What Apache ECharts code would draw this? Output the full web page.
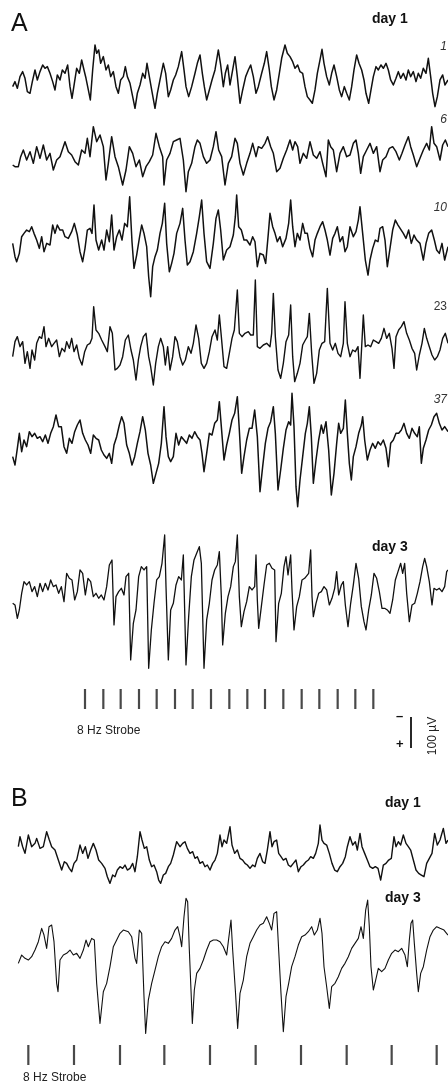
<!DOCTYPE html>
<html>
<head>
<meta charset="UTF-8">
<title>EEG 8 Hz strobe</title>
<script type="text/javascript" src="https://cdn.jsdelivr.net/npm/echarts@6/dist/echarts.min.js"></script>
<style>
html, body { margin: 0; padding: 0; background: #fff; }
</style>
</head>
<body>
<div id="main" style="width:448px; height:1084px"></div>
<script type="text/javascript">
// time in samples (same scale for every trace of a panel), amplitude in display units, negative up
var trace1 = [[38,10],[45,-5],[52,15],[60,-20],[68,-35],[75,-15],[82,25],[90,30],[97,-5],[105,-40],[112,-10],[120,-35],[128,-55],[135,-45],[142,-50],[150,-30],[158,-5],[165,20],[172,-25],[180,-10],[187,-40],[195,-30],[203,-55],[210,10],[216,45],[223,0],[230,-45],[238,-30],[245,-70],[252,-40],[258,-15],[265,20],[271,50],[278,-40],[285,-115],[290,-90],[296,-100],[302,-60],[310,-80],[318,-40],[325,-55],[332,-20],[340,-35],[348,10],[355,30],[362,-10],[370,-20],[376,-50],[382,-20],[390,0],[398,40],[405,75],[412,30],[420,5],[428,-30],[435,-15],[441,-60],[448,-20],[455,20],[465,75],[472,30],[480,-10],[490,-60],[497,-30],[505,40],[512,20],[520,-10],[527,-25],[535,-50],[545,-95],[552,-40],[558,10],[566,40],[575,10],[585,-30],[592,-60],[600,-85],[607,-30],[613,10],[620,50],[628,20],[636,-10],[645,-40],[655,-100],[662,-55],[670,10],[676,-30],[683,-55],[690,5],[698,-40],[705,-80],[712,-20],[720,60],[728,20],[737,-20],[745,-40],[752,-55],[760,-20],[768,30],[775,10],[785,-30],[793,-60],[800,-95],[808,-40],[814,10],[822,50],[830,20],[838,-30],[845,-75],[855,-115],[862,-90],[870,-80],[878,-65],[885,-45],[893,-55],[900,-35],[908,-30],[915,10],[922,40],[930,50],[937,60],[945,20],[952,-30],[960,-70],[966,-102],[972,-60],[980,-20],[988,5],[995,-30],[1002,-55],[1010,-20],[1018,20],[1025,40],[1033,10],[1040,30],[1048,50],[1055,10],[1062,-40],[1070,-85],[1077,-60],[1085,-40],[1092,-10],[1098,30],[1106,60],[1113,20],[1120,-20],[1128,-50],[1135,-40],[1143,-55],[1150,-45],[1158,-60],[1165,-40],[1172,-10],[1180,5],[1188,-15],[1195,-35],[1202,-15],[1210,-30],[1218,-10],[1225,-40],[1232,-20],[1240,-35],[1248,-5],[1255,-30],[1262,-15],[1270,-45],[1278,-30],[1285,-75],[1292,-20],[1298,30],[1305,70],[1312,40],[1320,-10],[1328,-25],[1335,5],[1344,-10]];

var trace6 = [[38,15],[45,20],[55,20],[62,-10],[70,-30],[80,0],[90,-25],[100,10],[110,-40],[120,-5],[130,-45],[140,0],[150,-20],[160,30],[170,0],[180,-10],[195,-55],[205,-25],[215,-15],[225,5],[235,15],[245,-30],[255,-20],[262,-65],[270,-10],[280,-100],[290,-55],[300,-75],[310,-40],[318,60],[325,10],[335,-70],[345,-10],[355,20],[368,75],[378,30],[388,-40],[398,-20],[408,20],[418,0],[428,50],[438,20],[448,5],[458,-15],[468,-80],[478,-40],[488,-10],[492,75],[500,0],[510,-20],[520,-55],[530,-60],[540,-65],[550,0],[558,95],[565,35],[575,10],[585,-40],[592,-60],[600,-50],[610,-10],[620,10],[630,0],[640,-40],[648,-85],[656,-30],[665,-10],[675,75],[685,10],[695,-10],[705,-65],[712,-50],[720,10],[730,45],[740,10],[750,-20],[758,-50],[768,-10],[775,-40],[785,-35],[795,-50],[803,-70],[812,-40],[820,-20],[830,35],[840,25],[850,-5],[860,-30],[870,-60],[878,-30],[885,-55],[893,-40],[900,10],[910,-20],[920,-5],[930,-55],[940,-15],[950,-5],[960,-25],[968,10],[978,50],[985,-60],[992,-40],[1000,-30],[1010,35],[1020,-20],[1030,-40],[1040,-10],[1050,-15],[1060,-50],[1068,-60],[1075,-20],[1082,40],[1090,-10],[1100,-30],[1110,-50],[1120,-20],[1130,-40],[1140,35],[1148,0],[1158,-10],[1168,-35],[1178,-40],[1188,-25],[1198,0],[1206,-20],[1215,-45],[1225,-70],[1232,-40],[1240,-15],[1250,20],[1260,-5],[1270,-30],[1280,-50],[1288,-30],[1295,-100],[1302,-50],[1310,-40],[1320,0],[1328,-45],[1336,-60],[1344,-40]];

var trace10 = [[38,-10],[45,30],[50,45],[58,20],[65,-30],[72,-40],[80,-50],[88,-45],[95,-60],[102,-40],[110,-20],[118,5],[125,-30],[132,15],[140,-10],[150,-5],[158,-65],[165,-40],[172,-65],[180,-50],[188,-50],[195,-30],[205,-25],[215,-45],[223,-70],[232,-35],[240,15],[248,45],[255,5],[262,-50],[270,-55],[276,-40],[282,-125],[288,-20],[296,10],[305,-20],[312,10],[320,-50],[328,-15],[335,-95],[342,10],[350,-30],[358,-50],[366,-20],[374,-70],[382,-60],[389,-150],[396,-15],[402,65],[410,25],[418,-25],[425,-65],[432,-40],[440,0],[446,90],[452,150],[458,60],[465,30],[472,10],[480,-40],[487,-70],[494,-130],[500,-10],[508,75],[515,50],[522,20],[530,-40],[540,-70],[548,-115],[555,-20],[562,55],[570,45],[580,15],[590,-40],[598,-90],[605,-140],[612,-40],[620,45],[630,65],[640,-10],[648,-85],[655,-110],[662,-50],[670,40],[680,10],[690,0],[700,-35],[706,-90],[710,-155],[716,-60],[724,-50],[732,-20],[740,-20],[750,-5],[758,-30],[765,-15],[772,60],[780,20],[790,25],[797,50],[805,-40],[810,-100],[818,-60],[825,-40],[832,-15],[840,-30],[848,0],[858,-25],[866,-70],[872,-140],[878,-60],[885,0],[892,-40],[900,-20],[908,-70],[915,-40],[922,-40],[930,5],[938,30],[945,-20],[952,-40],[960,-60],[968,-75],[975,-50],[982,-20],[990,25],[998,-25],[1005,-40],[1012,-60],[1020,-15],[1028,-30],[1035,15],[1042,0],[1050,-60],[1060,-30],[1068,-45],[1075,-80],[1080,-120],[1088,-40],[1096,40],[1104,85],[1110,40],[1118,5],[1126,-20],[1134,-15],[1140,-55],[1148,-60],[1155,-20],[1162,60],[1170,5],[1178,-50],[1186,-80],[1194,-65],[1200,-70],[1210,-40],[1218,-25],[1226,-50],[1234,-10],[1242,-35],[1250,-20],[1260,-10],[1270,40],[1278,-10],[1286,-40],[1295,-50],[1303,-20],[1310,10],[1318,20],[1326,-10],[1334,40],[1344,0]];

var trace23 = [[38,20],[45,-25],[52,-40],[60,-10],[68,-25],[75,40],[82,5],[90,55],[96,0],[104,30],[110,-20],[118,-40],[125,-35],[132,-70],[138,-10],[146,-35],[155,-10],[162,-20],[170,-30],[178,20],[186,-5],[194,5],[200,-25],[208,-5],[215,-35],[222,5],[230,-15],[238,25],[246,45],[254,5],[262,-15],[270,-20],[276,-35],[281,-130],[288,-60],[296,-50],[305,-30],[315,-10],[322,5],[330,-70],[337,-50],[345,60],[352,55],[360,45],[368,20],[376,-30],[385,-45],[393,0],[400,30],[408,90],[415,30],[422,-10],[430,-40],[438,-50],[446,20],[452,50],[460,105],[467,40],[475,-10],[482,-35],[490,-10],[496,45],[503,-10],[510,60],[518,20],[525,-40],[532,-25],[540,20],[548,45],[556,30],[565,-10],[573,10],[580,-20],[588,-75],[596,-35],[604,40],[612,55],[620,40],[628,5],[636,-40],[645,-60],[652,-30],[658,-105],[664,-40],[672,50],[680,55],[688,10],[696,-35],[703,-60],[708,-65],[712,-180],[718,-50],[726,-40],[735,-50],[745,-55],[752,-45],[760,-45],[766,-210],[772,-10],[780,-5],[790,-15],[800,-20],[810,-10],[815,-50],[820,-170],[826,-40],[834,60],[842,85],[850,40],[858,-25],[866,-45],[872,-135],[878,20],[884,95],[892,70],[900,40],[908,-15],[916,-30],[922,-40],[928,-110],[935,10],[942,100],[950,70],[958,0],[966,-20],[974,-25],[982,-185],[990,-20],[998,0],[1006,-20],[1014,10],[1022,20],[1030,-20],[1035,-145],[1042,-20],[1050,20],[1058,0],[1066,5],[1074,-10],[1080,85],[1085,-10],[1090,-105],[1096,-10],[1104,-15],[1112,-10],[1120,-30],[1128,-25],[1136,-20],[1144,-35],[1152,-65],[1160,-35],[1168,-50],[1176,-5],[1182,55],[1188,-40],[1196,-60],[1204,-70],[1212,-85],[1220,-50],[1228,-30],[1236,-5],[1244,10],[1250,60],[1258,15],[1266,-20],[1273,-65],[1280,-35],[1288,-10],[1296,15],[1304,30],[1312,20],[1320,0],[1328,-35],[1336,-50],[1344,-20]];

var trace37 = [[38,50],[45,75],[52,25],[58,-20],[65,35],[72,0],[80,20],[88,-25],[96,-10],[104,-20],[112,-5],[120,-10],[128,5],[136,-15],[144,10],[152,-20],[160,-40],[168,-75],[176,-40],[184,-40],[192,20],[200,40],[208,-5],[216,10],[224,-25],[232,-45],[240,-60],[248,-20],[256,0],[264,15],[272,40],[280,-15],[288,-5],[296,0],[304,30],[312,45],[320,55],[328,40],[335,70],[342,15],[350,-10],[358,-45],[365,-70],[372,-50],[380,15],[388,40],[396,75],[404,50],[412,10],[420,-25],[428,-70],[436,-30],[444,40],[452,75],[460,130],[468,100],[476,70],[484,10],[492,-100],[498,-10],[505,50],[512,65],[520,50],[528,-20],[536,15],[544,-10],[552,0],[560,10],[568,-15],[576,-5],[584,-25],[592,-10],[600,0],[606,40],[612,95],[620,40],[628,-20],[636,-15],[644,-50],[652,-60],[658,-115],[664,-40],[672,60],[680,15],[688,-20],[696,-60],[704,-80],[712,-130],[718,-30],[725,100],[732,50],[740,0],[748,-35],[756,-35],[764,-90],[772,-10],[780,155],[788,80],[796,10],[804,-35],[812,-55],[820,-100],[826,-20],[834,150],[842,90],[850,25],[858,-30],[866,-55],[872,-45],[876,-140],[882,-40],[888,140],[893,200],[900,120],[908,50],[916,-20],[922,-50],[928,-100],[934,-10],[940,130],[948,60],[956,0],[964,-45],[970,-20],[978,-55],[986,30],[994,165],[1002,100],[1010,10],[1016,-50],[1022,-20],[1030,-35],[1036,-120],[1042,-20],[1048,70],[1054,120],[1060,50],[1068,20],[1076,-20],[1084,-45],[1088,-70],[1094,0],[1102,60],[1110,30],[1118,10],[1126,25],[1134,5],[1142,15],[1150,0],[1158,25],[1165,80],[1172,10],[1180,0],[1188,-20],[1196,-20],[1204,-30],[1212,-50],[1220,-20],[1228,-5],[1236,-35],[1244,-20],[1252,-10],[1258,-40],[1264,70],[1270,25],[1278,0],[1286,-30],[1294,-45],[1302,-70],[1310,-80],[1318,-50],[1326,-30],[1334,-40],[1344,-25]];

var day3A = [[38,30],[45,35],[52,75],[58,50],[65,0],[72,-35],[80,-25],[88,-35],[96,-5],[104,-20],[112,10],[120,-30],[128,-5],[136,-30],[144,-10],[152,-40],[160,-20],[168,-25],[176,0],[184,-20],[192,25],[200,-60],[208,-45],[216,-40],[224,20],[232,-5],[240,-70],[248,-60],[256,5],[264,-45],[272,-35],[280,10],[288,0],[296,15],[304,5],[312,20],[320,-20],[328,-85],[336,-100],[342,95],[348,10],[356,-5],[364,-15],[372,5],[378,-50],[386,-60],[392,200],[400,90],[408,50],[416,-50],[424,-80],[432,-70],[440,-80],[446,225],[454,110],[462,30],[470,-40],[478,-50],[486,-90],[494,-175],[498,-20],[505,200],[512,50],[520,30],[528,-25],[536,-50],[544,-40],[550,-115],[558,215],[566,70],[574,-50],[582,-100],[590,-120],[598,-140],[604,-90],[612,225],[620,80],[628,30],[636,-40],[644,-70],[652,-85],[658,-125],[664,10],[668,155],[676,60],[684,10],[692,-20],[700,-80],[706,-95],[712,-175],[718,10],[724,100],[732,55],[740,25],[748,-20],[756,-10],[764,-20],[768,-115],[772,20],[776,105],[784,40],[792,-25],[800,-85],[808,-90],[816,-75],[824,-70],[828,145],[836,30],[844,0],[852,-80],[858,-110],[864,-55],[872,-115],[876,-10],[882,110],[890,40],[898,10],[906,-40],[914,-45],[920,-40],[926,-60],[932,-130],[936,10],[940,70],[948,30],[956,0],[964,-5],[972,-20],[980,-10],[988,35],[996,15],[1004,-15],[1010,-65],[1016,5],[1024,-25],[1030,-35],[1036,35],[1044,100],[1052,30],[1060,-25],[1068,-90],[1076,-45],[1084,40],[1092,85],[1098,110],[1106,50],[1114,5],[1122,-60],[1130,-45],[1138,-5],[1146,45],[1154,45],[1162,50],[1170,60],[1178,20],[1186,-40],[1194,-65],[1202,-90],[1208,-60],[1214,-90],[1220,0],[1228,85],[1236,35],[1244,30],[1252,0],[1260,-35],[1268,-80],[1274,-105],[1280,-80],[1288,-35],[1296,35],[1302,-15],[1310,-10],[1318,-15],[1326,-5],[1334,-20],[1340,-65],[1344,-70]];

var bDay1 = [[55,-30],[60,-60],[68,-30],[75,-10],[85,-65],[95,-30],[105,-40],[110,-55],[120,-25],[130,-30],[140,-75],[148,-50],[155,-30],[165,-20],[175,10],[185,40],[193,15],[200,20],[208,35],[215,45],[222,20],[230,10],[240,-35],[248,-10],[256,-30],[264,5],[272,-20],[280,-40],[288,-20],[296,10],[305,20],[315,35],[322,60],[330,80],[338,55],[345,60],[352,40],[360,30],[368,35],[375,25],[382,40],[390,35],[398,20],[405,45],[412,0],[420,-75],[426,-50],[433,-25],[440,-30],[448,10],[455,30],[462,25],[470,45],[476,70],[482,80],[490,55],[497,50],[505,30],[512,20],[520,-5],[530,-45],[540,-30],[548,-40],[555,-45],[562,-25],[570,-10],[578,-15],[585,5],[592,0],[600,20],[608,15],[615,30],[622,25],[630,40],[638,20],[645,10],[652,-10],[660,-65],[666,-30],[672,-50],[680,-40],[690,-90],[696,-35],[704,-10],[712,-20],[720,5],[728,10],[735,20],[742,25],[750,35],[758,25],[765,30],[772,5],[780,-10],[788,15],[795,20],[802,-20],[810,-75],[816,-30],[822,-45],[830,-50],[836,-10],[843,0],[850,10],[858,5],[865,25],[872,30],[880,20],[888,10],[895,45],[903,30],[910,25],[918,15],[925,10],[932,0],[940,5],[947,-10],[955,-40],[960,-95],[966,-50],[972,-40],[980,-35],[988,-10],[996,20],[1004,40],[1012,45],[1020,30],[1028,20],[1036,0],[1042,-30],[1050,-60],[1058,-35],[1066,-45],[1072,-20],[1080,-70],[1086,-30],[1094,-10],[1102,10],[1110,30],[1118,35],[1126,30],[1134,35],[1142,70],[1150,25],[1158,20],[1166,10],[1174,5],[1182,-60],[1188,-30],[1195,-45],[1202,-35],[1210,-65],[1218,-40],[1225,-30],[1232,-20],[1240,10],[1248,40],[1256,50],[1264,55],[1272,60],[1280,20],[1288,5],[1296,-10],[1304,-70],[1312,-35],[1320,-50],[1330,-85],[1338,-40],[1344,-50]];

var bDay3 = [[55,-10],[65,-35],[75,-25],[85,-20],[95,-30],[105,-50],[115,-75],[125,-115],[132,-95],[140,-55],[147,-120],[155,-125],[162,-75],[170,50],[174,75],[180,-20],[190,-35],[200,-40],[210,-50],[220,-35],[230,-40],[240,-25],[250,-50],[258,-80],[265,-60],[275,-85],[283,-80],[290,50],[300,170],[310,75],[320,50],[330,0],[340,-60],[350,-80],[360,-100],[370,-110],[385,-105],[395,-90],[405,-25],[410,-10],[418,-110],[425,-100],[432,90],[437,200],[445,100],[455,50],[465,10],[475,-30],[485,-60],[495,-75],[505,-70],[515,-85],[525,-110],[533,-120],[540,-90],[545,-60],[552,-150],[558,-205],[563,-195],[568,-50],[573,70],[577,170],[583,70],[590,20],[600,5],[610,-20],[620,-50],[630,-75],[640,-80],[650,-80],[660,-75],[670,-60],[680,-35],[688,-100],[693,-140],[698,-50],[706,70],[713,185],[720,80],[730,40],[740,-30],[750,-70],[760,-90],[770,-110],[780,-125],[790,-130],[800,-150],[808,-130],[815,-110],[822,-160],[830,-165],[836,-50],[843,80],[850,195],[858,90],[866,50],[875,0],[885,-30],[895,-65],[905,-90],[915,-95],[925,-105],[935,-120],[943,-95],[952,-110],[960,-145],[966,-100],[972,0],[980,60],[988,125],[995,60],[1005,50],[1015,30],[1025,5],[1035,-10],[1045,-30],[1055,-55],[1065,-70],[1075,-85],[1083,-120],[1090,-85],[1097,-170],[1103,-200],[1108,-120],[1113,0],[1120,70],[1127,40],[1135,5],[1145,15],[1155,5],[1165,-20],[1175,-40],[1185,-50],[1195,-45],[1205,-55],[1215,-35],[1222,0],[1228,-80],[1233,-130],[1238,-140],[1243,-70],[1250,20],[1255,75],[1262,20],[1270,0],[1280,-50],[1290,-90],[1300,-110],[1310,-120],[1320,-115],[1332,-110],[1344,-95]];

// strobe flash times (same sample scale)
var strobeA = [255,310,362,417,470,525,578,633,688,742,795,850,905,958,1013,1066,1120];
var strobeB = [85,222,360,493,630,767,903,1040,1175,1310];

var trialNames = ['1', '6', '10', '23', '37'];
var scaleBar = [0, 100]; // µV

var chart = echarts.init(document.getElementById('main'));

var grids = [], xAxes = [], yAxes = [], series = [];

function addPanel(top, height, left, width, xMin, xMax, yMin, yMax, inverse) {
	var i = grids.length;
	grids.push({ left: left, top: top, width: width, height: height, containLabel: false });
	xAxes.push({ type: 'value', gridIndex: i, min: xMin, max: xMax, show: false });
	yAxes.push({ type: 'value', gridIndex: i, min: yMin, max: yMax, inverse: !!inverse, show: false });
	return i;
}

function addTrace(data, baseline, w) {
	var i = addPanel(baseline - 80, 160, 0, 448, 0, 1344, -240, 240, true);
	series.push({
		type: 'line', xAxisIndex: i, yAxisIndex: i, data: data,
		symbol: 'none', silent: true,
		lineStyle: { color: '#111', width: w, join: 'round' }
	});
}

addTrace(trace1, 83.3, 1.5);
addTrace(trace6, 160, 1.5);
addTrace(trace10, 246.7, 1.5);
addTrace(trace23, 350, 1.4);
addTrace(trace37, 440, 1.5);
addTrace(day3A, 593.3, 1.3);
addTrace(bDay1, 856.7, 1.4);
addTrace(bDay3, 966.7, 1.1);

function addStrobe(times, top) {
	var i = addPanel(top, 20, 0, 448, 0, 1344, -1, 1);
	series.push({
		type: 'scatter', xAxisIndex: i, yAxisIndex: i, silent: true,
		data: times.map(function (t) { return [t, 0]; }),
		symbol: 'rect', symbolSize: [2.2, 20],
		itemStyle: { color: '#1c1c1c' }
	});
}
addStrobe(strobeA, 689);
addStrobe(strobeB, 1045);

// 100 µV scale bar
var sb = addPanel(717, 31, 410, 2, -1, 1, 0, 100, true);
series.push({
	type: 'line', xAxisIndex: sb, yAxisIndex: sb, silent: true, symbol: 'none',
	data: scaleBar.map(function (v) { return [0, v]; }),
	lineStyle: { color: '#111', width: 1.8 }
});

var font = 'Liberation Sans, Arial, sans-serif';
function txt(x, y, s, size, opts) {
	opts = opts || {};
	return {
		type: 'text', x: x, y: y, rotation: opts.rot || 0,
		style: {
			text: s, fill: opts.color || '#111',
			font: (opts.style || 'normal') + ' ' + (opts.weight || 'normal') + ' ' + size + 'px ' + font,
			textAlign: opts.align || 'left', textVerticalAlign: 'middle'
		}
	};
}

var trialY = [47, 120, 208, 307, 400];
var labels = [
	txt(11, 24, 'A', 25),
	txt(372, 19, 'day 1', 14, { weight: 'bold' }),
	txt(372, 547, 'day 3', 14, { weight: 'bold' }),
	txt(77, 731, '8 Hz Strobe', 12, { color: '#222' }),
	txt(396, 716, '–', 13, { weight: 'bold' }),
	txt(396, 744, '+', 13, { weight: 'bold' }),
	txt(433, 736, '100 µV', 12, { rot: Math.PI / 2, align: 'center', color: '#222' }),
	txt(11, 799, 'B', 25),
	txt(385, 803, 'day 1', 14, { weight: 'bold' }),
	txt(385, 898, 'day 3', 14, { weight: 'bold' }),
	txt(23, 1078, '8 Hz Strobe', 12, { color: '#222' })
];
trialNames.forEach(function (n, k) {
	labels.push(txt(447, trialY[k], n, 12, { style: n === '23' ? 'normal' : 'italic', align: 'right', color: '#333' }));
});

chart.setOption({
	animation: false,
	backgroundColor: '#fff',
	grid: grids,
	xAxis: xAxes,
	yAxis: yAxes,
	series: series,
	graphic: labels
});
</script>
</body>
</html>
